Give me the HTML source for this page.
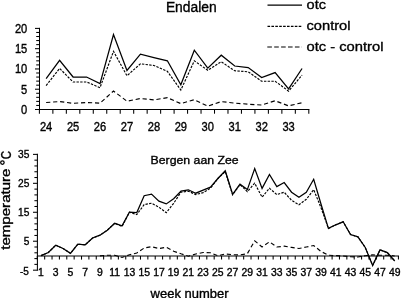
<!DOCTYPE html><html><head><meta charset="utf-8"><style>html,body{margin:0;padding:0;background:#fff;overflow:hidden}svg{display:block;will-change:transform}text{font-family:"Liberation Sans", sans-serif;fill:#000;stroke:#000;stroke-width:0.35px}</style></head><body>
<svg width="401" height="298" viewBox="0 0 401 298">
<rect width="401" height="298" fill="#fff"/>
<g stroke="#000" stroke-width="1.05"><line x1="39.5" y1="27.8" x2="39.5" y2="109.5"/><line x1="35.0" y1="109.5" x2="39.5" y2="109.5"/><line x1="36.2" y1="105.44" x2="39.5" y2="105.44"/><line x1="36.2" y1="101.39" x2="39.5" y2="101.39"/><line x1="36.2" y1="97.34" x2="39.5" y2="97.34"/><line x1="36.2" y1="93.28" x2="39.5" y2="93.28"/><line x1="35.0" y1="89.22" x2="39.5" y2="89.22"/><line x1="36.2" y1="85.17" x2="39.5" y2="85.17"/><line x1="36.2" y1="81.12" x2="39.5" y2="81.12"/><line x1="36.2" y1="77.06" x2="39.5" y2="77.06"/><line x1="36.2" y1="73" x2="39.5" y2="73"/><line x1="35.0" y1="68.95" x2="39.5" y2="68.95"/><line x1="36.2" y1="64.9" x2="39.5" y2="64.9"/><line x1="36.2" y1="60.84" x2="39.5" y2="60.84"/><line x1="36.2" y1="56.79" x2="39.5" y2="56.79"/><line x1="36.2" y1="52.73" x2="39.5" y2="52.73"/><line x1="35.0" y1="48.68" x2="39.5" y2="48.68"/><line x1="36.2" y1="44.62" x2="39.5" y2="44.62"/><line x1="36.2" y1="40.56" x2="39.5" y2="40.56"/><line x1="36.2" y1="36.51" x2="39.5" y2="36.51"/><line x1="36.2" y1="32.46" x2="39.5" y2="32.46"/><line x1="35.0" y1="28.4" x2="39.5" y2="28.4"/><line x1="35" y1="109.5" x2="309.4" y2="109.5"/><line x1="39.4" y1="109.5" x2="39.4" y2="113.7"/><line x1="52.87" y1="109.5" x2="52.87" y2="113.7"/><line x1="66.34" y1="109.5" x2="66.34" y2="113.7"/><line x1="79.81" y1="109.5" x2="79.81" y2="113.7"/><line x1="93.28" y1="109.5" x2="93.28" y2="113.7"/><line x1="106.75" y1="109.5" x2="106.75" y2="113.7"/><line x1="120.22" y1="109.5" x2="120.22" y2="113.7"/><line x1="133.69" y1="109.5" x2="133.69" y2="113.7"/><line x1="147.16" y1="109.5" x2="147.16" y2="113.7"/><line x1="160.63" y1="109.5" x2="160.63" y2="113.7"/><line x1="174.1" y1="109.5" x2="174.1" y2="113.7"/><line x1="187.57" y1="109.5" x2="187.57" y2="113.7"/><line x1="201.04" y1="109.5" x2="201.04" y2="113.7"/><line x1="214.51" y1="109.5" x2="214.51" y2="113.7"/><line x1="227.98" y1="109.5" x2="227.98" y2="113.7"/><line x1="241.45" y1="109.5" x2="241.45" y2="113.7"/><line x1="254.92" y1="109.5" x2="254.92" y2="113.7"/><line x1="268.39" y1="109.5" x2="268.39" y2="113.7"/><line x1="281.86" y1="109.5" x2="281.86" y2="113.7"/><line x1="295.33" y1="109.5" x2="295.33" y2="113.7"/><line x1="308.8" y1="109.5" x2="308.8" y2="113.7"/></g>
<g font-size="12"><text x="27.3" y="113.9" text-anchor="end" textLength="6.2" lengthAdjust="spacingAndGlyphs">0</text><text x="27.3" y="93.62" text-anchor="end" textLength="6.2" lengthAdjust="spacingAndGlyphs">5</text><text x="27.3" y="73.35" text-anchor="end" textLength="12.4" lengthAdjust="spacingAndGlyphs">10</text><text x="27.3" y="53.08" text-anchor="end" textLength="12.4" lengthAdjust="spacingAndGlyphs">15</text><text x="27.3" y="32.8" text-anchor="end" textLength="12.4" lengthAdjust="spacingAndGlyphs">20</text><text x="46.13" y="131" text-anchor="middle" textLength="12.4" lengthAdjust="spacingAndGlyphs">24</text><text x="73.08" y="131" text-anchor="middle" textLength="12.4" lengthAdjust="spacingAndGlyphs">25</text><text x="100.02" y="131" text-anchor="middle" textLength="12.4" lengthAdjust="spacingAndGlyphs">26</text><text x="126.96" y="131" text-anchor="middle" textLength="12.4" lengthAdjust="spacingAndGlyphs">27</text><text x="153.9" y="131" text-anchor="middle" textLength="12.4" lengthAdjust="spacingAndGlyphs">28</text><text x="180.84" y="131" text-anchor="middle" textLength="12.4" lengthAdjust="spacingAndGlyphs">29</text><text x="207.78" y="131" text-anchor="middle" textLength="12.4" lengthAdjust="spacingAndGlyphs">30</text><text x="234.72" y="131" text-anchor="middle" textLength="12.4" lengthAdjust="spacingAndGlyphs">31</text><text x="261.66" y="131" text-anchor="middle" textLength="12.4" lengthAdjust="spacingAndGlyphs">32</text><text x="288.6" y="131" text-anchor="middle" textLength="12.4" lengthAdjust="spacingAndGlyphs">33</text></g>
<polyline points="46.13,102.5 59.61,101.6 73.08,103.3 86.55,102.5 100.02,103.2 113.49,91 126.96,101.2 140.43,98.5 153.9,99.9 167.37,97.7 180.84,103.6 194.31,99.7 207.78,106.1 221.25,101.6 234.72,103.1 248.19,104.2 261.66,105 275.12,100.8 288.6,105.9 302.06,102.7" fill="none" stroke="#000" stroke-width="1.15" stroke-dasharray="4.2 2.8"/>
<polyline points="46.13,85.6 59.61,68.4 73.08,82 86.55,82 100.02,87.7 113.49,51.3 126.96,75.8 140.43,63.8 153.9,65.5 167.37,71.3 180.84,90 194.31,60.8 207.78,70.3 221.25,61.8 234.72,70.8 248.19,71.8 261.66,81.2 275.12,81.2 288.6,91.1 302.06,75.1" fill="none" stroke="#000" stroke-width="1.15" stroke-dasharray="2.4 1.3"/>
<polyline points="46.13,78.6 59.61,60.3 73.08,77 86.55,77 100.02,83.6 113.49,34.6 126.96,70.5 140.43,54.2 153.9,57.6 167.37,60.8 180.84,84.8 194.31,50.2 207.78,68.1 221.25,55.2 234.72,66 248.19,67.6 261.66,77.6 275.12,72.6 288.6,88.9 302.06,68.5" fill="none" stroke="#000" stroke-width="1.25" stroke-linejoin="miter"/>
<text x="165.9" y="11.7" font-size="14" textLength="50.8" lengthAdjust="spacingAndGlyphs">Endalen</text>
<line x1="267.5" y1="5.2" x2="302" y2="5.2" stroke="#000" stroke-width="1.2"/>
<line x1="267.5" y1="26.4" x2="302" y2="26.4" stroke="#000" stroke-width="1.1" stroke-dasharray="2.6 1.3"/>
<line x1="267.3" y1="47" x2="302" y2="47" stroke="#000" stroke-width="1.1" stroke-dasharray="4.6 2.3"/>
<g font-size="13.2">
<text x="306.6" y="8.8" textLength="19.4" lengthAdjust="spacingAndGlyphs">otc</text>
<text x="306.5" y="29.8" textLength="44" lengthAdjust="spacingAndGlyphs">control</text>
<text x="306.5" y="51" textLength="77" lengthAdjust="spacingAndGlyphs">otc - control</text>
</g>
<g stroke="#000" stroke-width="1.05"><line x1="37.4" y1="153.78" x2="37.4" y2="270.78"/><line x1="33.0" y1="270.18" x2="37.4" y2="270.18"/><line x1="34.4" y1="264.38" x2="37.4" y2="264.38"/><line x1="34.4" y1="258.59" x2="37.4" y2="258.59"/><line x1="34.4" y1="252.8" x2="37.4" y2="252.8"/><line x1="34.4" y1="247.01" x2="37.4" y2="247.01"/><line x1="33.0" y1="241.22" x2="37.4" y2="241.22"/><line x1="34.4" y1="235.44" x2="37.4" y2="235.44"/><line x1="34.4" y1="229.64" x2="37.4" y2="229.64"/><line x1="34.4" y1="223.85" x2="37.4" y2="223.85"/><line x1="34.4" y1="218.06" x2="37.4" y2="218.06"/><line x1="33.0" y1="212.27" x2="37.4" y2="212.27"/><line x1="34.4" y1="206.48" x2="37.4" y2="206.48"/><line x1="34.4" y1="200.69" x2="37.4" y2="200.69"/><line x1="34.4" y1="194.9" x2="37.4" y2="194.9"/><line x1="34.4" y1="189.12" x2="37.4" y2="189.12"/><line x1="33.0" y1="183.32" x2="37.4" y2="183.32"/><line x1="34.4" y1="177.53" x2="37.4" y2="177.53"/><line x1="34.4" y1="171.75" x2="37.4" y2="171.75"/><line x1="34.4" y1="165.95" x2="37.4" y2="165.95"/><line x1="34.4" y1="160.16" x2="37.4" y2="160.16"/><line x1="33.0" y1="154.38" x2="37.4" y2="154.38"/><line x1="37.4" y1="256.0" x2="399.03" y2="256.0"/><line x1="37.3" y1="256.0" x2="37.3" y2="259.6"/><line x1="44.67" y1="256.0" x2="44.67" y2="259.6"/><line x1="52.04" y1="256.0" x2="52.04" y2="259.6"/><line x1="59.41" y1="256.0" x2="59.41" y2="259.6"/><line x1="66.78" y1="256.0" x2="66.78" y2="259.6"/><line x1="74.15" y1="256.0" x2="74.15" y2="259.6"/><line x1="81.52" y1="256.0" x2="81.52" y2="259.6"/><line x1="88.89" y1="256.0" x2="88.89" y2="259.6"/><line x1="96.26" y1="256.0" x2="96.26" y2="259.6"/><line x1="103.63" y1="256.0" x2="103.63" y2="259.6"/><line x1="111" y1="256.0" x2="111" y2="259.6"/><line x1="118.37" y1="256.0" x2="118.37" y2="259.6"/><line x1="125.74" y1="256.0" x2="125.74" y2="259.6"/><line x1="133.11" y1="256.0" x2="133.11" y2="259.6"/><line x1="140.48" y1="256.0" x2="140.48" y2="259.6"/><line x1="147.85" y1="256.0" x2="147.85" y2="259.6"/><line x1="155.22" y1="256.0" x2="155.22" y2="259.6"/><line x1="162.59" y1="256.0" x2="162.59" y2="259.6"/><line x1="169.96" y1="256.0" x2="169.96" y2="259.6"/><line x1="177.33" y1="256.0" x2="177.33" y2="259.6"/><line x1="184.7" y1="256.0" x2="184.7" y2="259.6"/><line x1="192.07" y1="256.0" x2="192.07" y2="259.6"/><line x1="199.44" y1="256.0" x2="199.44" y2="259.6"/><line x1="206.81" y1="256.0" x2="206.81" y2="259.6"/><line x1="214.18" y1="256.0" x2="214.18" y2="259.6"/><line x1="221.55" y1="256.0" x2="221.55" y2="259.6"/><line x1="228.92" y1="256.0" x2="228.92" y2="259.6"/><line x1="236.29" y1="256.0" x2="236.29" y2="259.6"/><line x1="243.66" y1="256.0" x2="243.66" y2="259.6"/><line x1="251.03" y1="256.0" x2="251.03" y2="259.6"/><line x1="258.4" y1="256.0" x2="258.4" y2="259.6"/><line x1="265.77" y1="256.0" x2="265.77" y2="259.6"/><line x1="273.14" y1="256.0" x2="273.14" y2="259.6"/><line x1="280.51" y1="256.0" x2="280.51" y2="259.6"/><line x1="287.88" y1="256.0" x2="287.88" y2="259.6"/><line x1="295.25" y1="256.0" x2="295.25" y2="259.6"/><line x1="302.62" y1="256.0" x2="302.62" y2="259.6"/><line x1="309.99" y1="256.0" x2="309.99" y2="259.6"/><line x1="317.36" y1="256.0" x2="317.36" y2="259.6"/><line x1="324.73" y1="256.0" x2="324.73" y2="259.6"/><line x1="332.1" y1="256.0" x2="332.1" y2="259.6"/><line x1="339.47" y1="256.0" x2="339.47" y2="259.6"/><line x1="346.84" y1="256.0" x2="346.84" y2="259.6"/><line x1="354.21" y1="256.0" x2="354.21" y2="259.6"/><line x1="361.58" y1="256.0" x2="361.58" y2="259.6"/><line x1="368.95" y1="256.0" x2="368.95" y2="259.6"/><line x1="376.32" y1="256.0" x2="376.32" y2="259.6"/><line x1="383.69" y1="256.0" x2="383.69" y2="259.6"/><line x1="391.06" y1="256.0" x2="391.06" y2="259.6"/><line x1="398.43" y1="256.0" x2="398.43" y2="259.6"/></g>
<g font-size="10.4"><text x="29.4" y="158.47" text-anchor="end" textLength="11.3" lengthAdjust="spacingAndGlyphs">35</text><text x="29.4" y="187.42" text-anchor="end" textLength="11.3" lengthAdjust="spacingAndGlyphs">25</text><text x="29.4" y="216.37" text-anchor="end" textLength="11.3" lengthAdjust="spacingAndGlyphs">15</text><text x="29.4" y="245.32" text-anchor="end" textLength="5.6" lengthAdjust="spacingAndGlyphs">5</text><text x="28.9" y="275" text-anchor="end" font-size="10">-5</text><text x="40.98" y="275.6" text-anchor="middle">1</text><text x="55.72" y="275.6" text-anchor="middle">3</text><text x="70.47" y="275.6" text-anchor="middle">5</text><text x="85.2" y="275.6" text-anchor="middle">7</text><text x="99.94" y="275.6" text-anchor="middle">9</text><text x="114.69" y="275.6" text-anchor="middle">11</text><text x="129.43" y="275.6" text-anchor="middle">13</text><text x="144.16" y="275.6" text-anchor="middle">15</text><text x="158.91" y="275.6" text-anchor="middle">17</text><text x="173.64" y="275.6" text-anchor="middle">19</text><text x="188.38" y="275.6" text-anchor="middle">21</text><text x="203.12" y="275.6" text-anchor="middle">23</text><text x="217.87" y="275.6" text-anchor="middle">25</text><text x="232.61" y="275.6" text-anchor="middle">27</text><text x="247.35" y="275.6" text-anchor="middle">29</text><text x="262.08" y="275.6" text-anchor="middle">31</text><text x="276.82" y="275.6" text-anchor="middle">33</text><text x="291.56" y="275.6" text-anchor="middle">35</text><text x="306.31" y="275.6" text-anchor="middle">37</text><text x="321.05" y="275.6" text-anchor="middle">39</text><text x="335.79" y="275.6" text-anchor="middle">41</text><text x="350.53" y="275.6" text-anchor="middle">43</text><text x="365.27" y="275.6" text-anchor="middle">45</text><text x="380" y="275.6" text-anchor="middle">47</text><text x="394.75" y="275.6" text-anchor="middle">49</text></g>
<polyline points="99.94,255.9 107.31,255.2 114.69,255.2 122.05,257.5 129.43,254.8 136.8,253 144.16,248 151.53,246.7 158.91,248.5 166.27,247.3 173.64,251.2 181.01,253.8 188.38,256.2 195.75,254 203.12,252.5 210.5,252.8 217.87,255.8 225.24,254 232.61,254.7 239.98,254.9 247.35,253.7 254.71,240.8 262.08,247 269.45,241.8 276.82,247 284.19,246.2 291.56,247.4 298.94,248.5 306.31,247 313.68,245.5 321.05,251.5 328.42,255.2 335.79,255.6 343.16,256 350.53,256.7 357.9,257 365.27,255.7 372.63,254.9 380,255.2 387.38,255.2 394.75,256" fill="none" stroke="#000" stroke-width="1.15" stroke-dasharray="4.2 2.8"/>
<polyline points="40.98,255.6 48.35,252.5 55.72,245.2 63.09,248.5 70.47,253.3 77.84,244.2 85.2,244.8 92.57,238 99.94,235.2 107.31,230.2 114.69,223.3 122.05,226.5 129.43,212.2 136.8,214.6 144.16,204.6 151.53,203.2 158.91,207.2 166.27,212.7 173.64,203.3 181.01,192.2 188.38,191.2 195.75,194.6 203.12,192.6 210.5,188.2 217.87,178.5 225.24,171.5 232.61,194.8 239.98,184.6 247.35,191.6 254.71,183.2 262.08,197.2 269.45,188.2 276.82,194.6 284.19,192.2 291.56,200.3 298.94,204.7 306.31,199.3 313.68,189.7 321.05,207.8 328.42,228.4 335.79,224.8 343.16,221.8 350.53,234.5 357.9,236.8 365.27,247.5 372.63,265.4 380,249.9 387.38,252.6 394.75,261" fill="none" stroke="#000" stroke-width="1.15" stroke-dasharray="2.4 1.3"/>
<polyline points="40.98,255.6 48.35,252.5 55.72,245.2 63.09,248.5 70.47,253.3 77.84,244.2 85.2,244.8 92.57,238 99.94,235.2 107.31,230.2 114.69,223.3 122.05,225.8 129.43,212.2 136.8,212.6 144.16,195.7 151.53,194.1 158.91,201.1 166.27,203.9 173.64,198.7 181.01,191.2 188.38,189.8 195.75,193.2 203.12,190.2 210.5,187.2 217.87,178.5 225.24,170.7 232.61,194.3 239.98,184.2 247.35,189.6 254.71,168.5 262.08,188.4 269.45,174.5 276.82,186.6 284.19,182.5 291.56,192.2 298.94,197.2 306.31,192.2 313.68,179.3 321.05,204.3 328.42,228.4 335.79,224.8 343.16,221.8 350.53,234.5 357.9,236.8 365.27,247.5 372.63,265.4 380,249.9 387.38,252.6 394.75,261" fill="none" stroke="#000" stroke-width="1.25" stroke-linejoin="miter"/>
<text x="150.6" y="164.2" font-size="11.8" textLength="88" lengthAdjust="spacingAndGlyphs">Bergen aan Zee</text>
<text x="150.6" y="297.6" font-size="12.6" textLength="78" lengthAdjust="spacingAndGlyphs">week number</text>
<text transform="translate(9.9,249.8) rotate(-90)" x="0" y="0" font-size="12" textLength="81.3" lengthAdjust="spacingAndGlyphs">temperature</text>
<circle cx="2.4" cy="162.6" r="1.75" fill="none" stroke="#000" stroke-width="1.25"/>
<text transform="translate(10.5,159.2) rotate(-90)" x="0" y="0" font-size="14" textLength="8.3" lengthAdjust="spacingAndGlyphs">C</text>
</svg></body></html>
